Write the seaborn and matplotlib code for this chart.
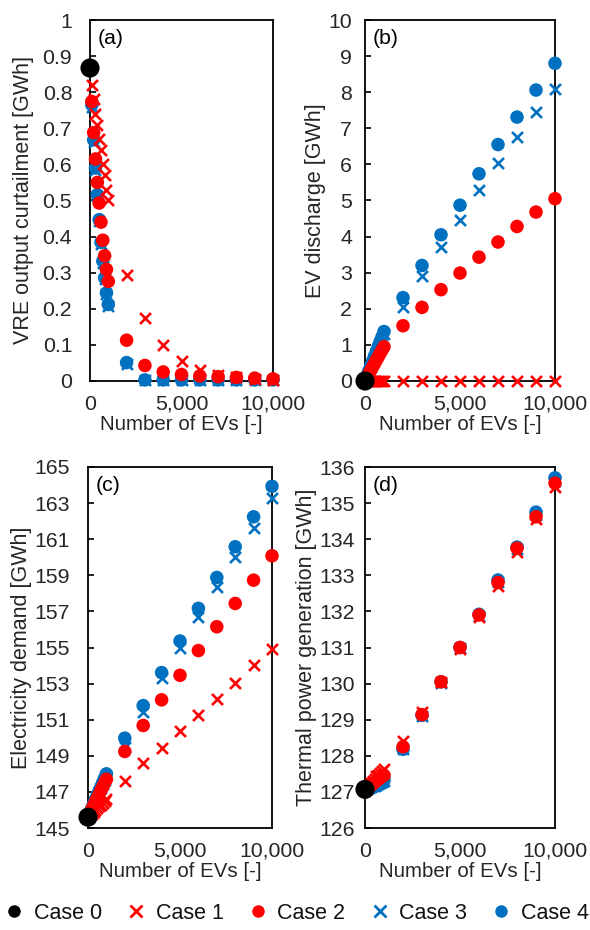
import numpy as np
import pandas as pd
import matplotlib
matplotlib.use("Agg")
import matplotlib.pyplot as plt
import matplotlib.ticker as mticker
from matplotlib.lines import Line2D
import seaborn as sns

# ---------------- data ----------------
n_evs = [100, 200, 300, 400, 500, 600, 700, 800, 900, 1000,
         2000, 3000, 4000, 5000, 6000, 7000, 8000, 9000, 10000]
n_evs_case0 = [0]

# (a) VRE output curtailment [GWh]
curt_case0 = [0.867]
curt_case1 = [0.82, 0.78, 0.74, 0.71, 0.67, 0.64, 0.60, 0.57, 0.53, 0.50,
              0.295, 0.175, 0.10, 0.055, 0.03, 0.016, 0.01, 0.006, 0.004]
curt_case2 = [0.774, 0.688, 0.615, 0.550, 0.493, 0.440, 0.390, 0.347, 0.309, 0.276,
              0.113, 0.043, 0.025, 0.018, 0.014, 0.012, 0.010, 0.008, 0.006]
curt_case3 = [0.758, 0.662, 0.585, 0.512, 0.443, 0.380, 0.328, 0.282, 0.240, 0.208,
              0.048, 0.002, 0.002, 0.002, 0.002, 0.002, 0.002, 0.002, 0.002]
curt_case4 = [0.765, 0.668, 0.590, 0.516, 0.447, 0.384, 0.332, 0.286, 0.244, 0.212,
              0.051, 0.003, 0.003, 0.003, 0.003, 0.003, 0.003, 0.003, 0.003]

# (b) EV discharge [GWh]
dis_case0 = [0.0]
dis_case1 = [0.0] * 19
dis_case2 = [0.10, 0.20, 0.29, 0.39, 0.48, 0.58, 0.67, 0.77, 0.86, 0.95,
             1.53, 2.04, 2.53, 2.99, 3.43, 3.85, 4.28, 4.68, 5.05]
dis_case3 = [0.13, 0.26, 0.39, 0.52, 0.65, 0.78, 0.91, 1.04, 1.17, 1.30,
             2.06, 2.90, 3.71, 4.47, 5.30, 6.04, 6.75, 7.45, 8.09]
dis_case4 = [0.14, 0.28, 0.41, 0.55, 0.69, 0.82, 0.96, 1.10, 1.23, 1.37,
             2.31, 3.20, 4.05, 4.87, 5.74, 6.55, 7.31, 8.06, 8.80]

# (c) Electricity demand [GWh]
dem_case0 = [145.6]
dem_case1 = [145.70, 145.80, 145.90, 146.00, 146.10, 146.20, 146.30, 146.40, 146.50, 146.60,
             147.58, 148.59, 149.42, 150.35, 151.27, 152.15, 153.06, 154.03, 154.90]
dem_case2 = [145.81, 146.02, 146.23, 146.44, 146.65, 146.86, 147.07, 147.28, 147.49, 147.70,
             149.24, 150.68, 152.10, 153.46, 154.83, 156.15, 157.44, 158.73, 160.08]
dem_case3 = [145.83, 146.06, 146.29, 146.52, 146.75, 146.98, 147.21, 147.44, 147.67, 147.90,
             149.50, 151.45, 153.30, 154.95, 156.67, 158.36, 159.99, 161.64, 163.30]
dem_case4 = [145.84, 146.08, 146.32, 146.56, 146.80, 147.04, 147.28, 147.52, 147.76, 148.00,
             149.98, 151.78, 153.61, 155.36, 157.17, 158.88, 160.58, 162.24, 163.93]

# (d) Thermal power generation [GWh]
thr_case0 = [127.07]
thr_case1 = [127.13, 127.19, 127.25, 127.31, 127.37, 127.43, 127.48, 127.53, 127.58, 127.63,
             128.40, 129.22, 130.05, 130.95, 131.85, 132.70, 133.65, 134.55, 135.45]
thr_case2 = [127.11, 127.15, 127.19, 127.23, 127.27, 127.31, 127.35, 127.39, 127.43, 127.46,
             128.25, 129.14, 130.05, 131.00, 131.90, 132.80, 133.75, 134.62, 135.55]
thr_case3 = [127.09, 127.11, 127.13, 127.15, 127.17, 127.19, 127.22, 127.25, 127.28, 127.31,
             128.20, 129.10, 130.03, 130.98, 131.88, 132.82, 133.72, 134.68, 135.62]
thr_case4 = [127.09, 127.11, 127.13, 127.15, 127.17, 127.20, 127.23, 127.26, 127.29, 127.32,
             128.18, 129.12, 130.05, 131.00, 131.92, 132.87, 133.78, 134.75, 135.70]

case_labels = ["Case 0", "Case 1", "Case 2", "Case 3", "Case 4"]
x_ticks = [0, 5000, 10000]

panels = [
    ("(a)", "VRE output curtailment [GWh]", [curt_case0, curt_case1, curt_case2, curt_case3, curt_case4],
     (0, 1), np.arange(0, 1.01, 0.1)),
    ("(b)", "EV discharge [GWh]", [dis_case0, dis_case1, dis_case2, dis_case3, dis_case4],
     (0, 10), np.arange(0, 11, 1)),
    ("(c)", "Electricity demand [GWh]", [dem_case0, dem_case1, dem_case2, dem_case3, dem_case4],
     (145, 165), np.arange(145, 166, 2)),
    ("(d)", "Thermal power generation [GWh]", [thr_case0, thr_case1, thr_case2, thr_case3, thr_case4],
     (126, 136), np.arange(126, 137, 1)),
]

RED = "#FF0000"
BLUE = "#0070C0"
styles = {
    "Case 0": dict(color="black", marker="o"),
    "Case 1": dict(color=RED, marker="x"),
    "Case 2": dict(color=RED, marker="o"),
    "Case 3": dict(color=BLUE, marker="x"),
    "Case 4": dict(color=BLUE, marker="o"),
}
draw_order = ["Case 3", "Case 4", "Case 1", "Case 2", "Case 0"]

# ---------------- figure ----------------
sns.set_theme(style="white")
plt.rcParams["font.family"] = ["Liberation Sans", "DejaVu Sans"]

fig = plt.figure(figsize=(5.9, 9.3), dpi=100)
W, H = 590, 930
boxes = [(90, 20, 273, 381), (365, 20, 555, 381), (88, 467, 272, 828), (365, 467, 555, 828)]
ypads = [12.8, 9.4, 13.0, 7.2]          # points
ylab_right_px = [34, 334, 34, 321]

TXT = "#262626"
FS_T = 15.3
FS_XL = 14.8
FS_YL = 15.5
axes = []
for (lab, ylab, series, ylim, yticks), (l, t, r, b), yp in zip(panels, boxes, ypads):
    ax = fig.add_axes([l / W, 1 - b / H, (r - l) / W, (b - t) / H])
    axes.append(ax)
    for case in draw_order:
        i = case_labels.index(case)
        xs = n_evs_case0 if case == "Case 0" else n_evs
        df = pd.DataFrame({"x": xs, "y": series[i]})
        st = styles[case]
        if st["marker"] == "o":
            size = 190 if case == "Case 0" else 95
            sns.scatterplot(data=df, x="x", y="y", ax=ax, color=st["color"], marker="o",
                            s=size, edgecolor="none", linewidth=0, clip_on=False, zorder=3)
        else:
            sns.scatterplot(data=df, x="x", y="y", ax=ax, color=st["color"], marker="x",
                            s=62, linewidth=1.9, clip_on=False, zorder=3)
    ax.set_xlim(0, 10000)
    ax.set_ylim(*ylim)
    ax.set_xticks(x_ticks)
    ax.xaxis.set_major_formatter(mticker.FuncFormatter(lambda v, p: f"{int(v):,}"))
    ax.set_yticks(yticks)
    if lab == "(a)":
        ax.yaxis.set_major_formatter(mticker.FuncFormatter(
            lambda v, p: "0" if abs(v) < 1e-9 else ("1" if abs(v - 1) < 1e-9 else f"{v:.1f}")))
    else:
        ax.yaxis.set_major_formatter(mticker.FuncFormatter(lambda v, p: f"{int(round(v))}"))
    ax.tick_params(axis="y", direction="in", length=4, width=1.2, color="black",
                   labelsize=FS_T, labelcolor=TXT, pad=yp, left=True)
    ax.tick_params(axis="x", length=0, labelsize=FS_T, labelcolor=TXT, pad=10)
    for sp in ax.spines.values():
        sp.set_color("black")
        sp.set_linewidth(1.3)
    ax.set_xlabel("Number of EVs [-]", fontsize=FS_XL, color=TXT, labelpad=1)
    ax.set_ylabel(ylab, fontsize=FS_YL, color=TXT)
    ax.text(0.04, 0.975, lab, transform=ax.transAxes, ha="left", va="top",
            fontsize=15.3, color="black")
    ax.grid(False)

# place y labels just left of the tick labels (no overlap)
fig.canvas.draw()
renderer = fig.canvas.get_renderer()
for ax, want in zip(axes, ylab_right_px):
    x0s = [tl.get_window_extent(renderer).x0 for tl in ax.get_yticklabels()
           if tl.get_visible() and tl.get_text()]
    target = min(want, min(x0s) - 2.5)
    bb = ax.get_window_extent(renderer)
    ax.yaxis.set_label_coords((target - bb.x0) / bb.width, 0.5)

handles = []
for case in case_labels:
    st = styles[case]
    if st["marker"] == "o":
        h = Line2D([], [], linestyle="none", marker="o", markersize=9,
                   markerfacecolor=st["color"], markeredgecolor="none", label=case)
    else:
        h = Line2D([], [], linestyle="none", marker="x", markersize=9,
                   markeredgecolor=st["color"], markeredgewidth=2.0, label=case)
    handles.append(h)
fig.legend(handles=handles, loc="center", bbox_to_anchor=(0.5, 1 - 913 / H), ncol=5,
           frameon=False, fontsize=15.5, handletextpad=0.3, columnspacing=1.0,
           handlelength=1.2, labelcolor="#111111")

fig.savefig("out.png", dpi=100)
